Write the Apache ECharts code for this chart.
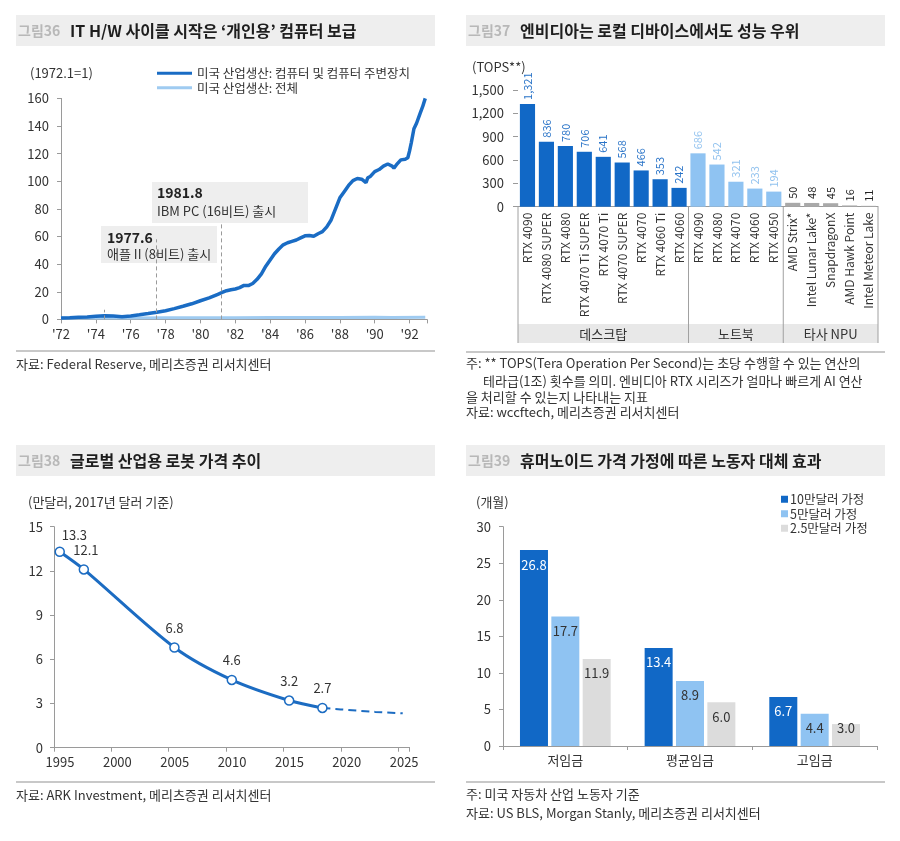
<!DOCTYPE html>
<html><head><meta charset="utf-8">
<script src="https://cdn.jsdelivr.net/npm/echarts@6/dist/echarts.min.js"></script>
<style>html,body{margin:0;padding:0;background:#fff}#c{width:900px;height:841px}</style>
</head><body><div id="c"></div>
<script>
// ---------- Panel 1 (그림36) ----------
const p1Years = [1972.0,1972.5,1973.0,1973.5,1974.0,1974.5,1975.0,1975.5,1976.0,1976.5,1977.0,1977.5,1978.0,1978.5,1979.0,1979.5,1980.0,1980.5,1981.0,1981.25,1981.5,1981.75,1982.0,1982.25,1982.5,1982.75,1983.0,1983.25,1983.5,1983.75,1984.0,1984.25,1984.5,1984.75,1985.0,1985.25,1985.5,1985.75,1986.0,1986.25,1986.5,1986.75,1987.0,1987.25,1987.5,1987.75,1988.0,1988.25,1988.5,1988.75,1989.0,1989.25,1989.5,1989.6,1989.75,1990.0,1990.25,1990.5,1990.75,1991.0,1991.1,1991.25,1991.5,1991.75,1991.9,1992.0,1992.1,1992.25,1992.4,1992.6,1992.75,1992.9];
const p1Computer = [1.0,1.2,1.5,1.8,2.2,2.6,2.4,2.0,2.5,3.3,4.2,5.2,6.3,7.8,9.5,11.3,13.5,15.6,18.2,19.5,20.8,21.5,22.0,23.0,24.6,24.5,26.0,29.0,33.0,38.5,43.0,47.5,51.0,54.0,55.5,56.5,57.5,59.0,60.5,60.8,60.2,62.0,63.5,67.0,72.0,80.0,88.0,92.5,97.0,100.5,102.0,101.5,99.0,102.5,103.5,107.0,108.5,111.0,112.5,111.0,109.5,112.0,115.5,116.0,117.0,122.0,128.0,138.0,142.0,149.0,154.0,160.0];
const p1TotalYears = [1972.0,1974.0,1975.0,1976.0,1978.0,1980.0,1982.0,1984.0,1986.0,1988.0,1990.0,1991.0,1992.9];
const p1Total = [1.0,1.1,1.0,1.1,1.2,1.25,1.15,1.3,1.35,1.45,1.5,1.45,1.55];
const p1Names = ['미국 산업생산: 컴퓨터 및 컴퓨터 주변장치','미국 산업생산: 전체'];

// ---------- Panel 2 (그림37) ----------
const p2Categories = ['RTX 4090','RTX 4080 SUPER','RTX 4080','RTX 4070 Ti SUPER','RTX 4070 Ti','RTX 4070 SUPER','RTX 4070','RTX 4060 Ti','RTX 4060','RTX 4090','RTX 4080','RTX 4070','RTX 4060','RTX 4050','AMD Strix*','Intel Lunar Lake*','SnapdragonX','AMD Hawk Point','Intel Meteor Lake'];
const p2Values = [1321,836,780,706,641,568,466,353,242,686,542,321,233,194,50,48,45,16,11];
const p2Groups = [0,0,0,0,0,0,0,0,0,1,1,1,1,1,2,2,2,2,2];
const p2GroupNames = ['데스크탑','노트북','타사 NPU'];

// ---------- Panel 3 (그림38) ----------
const p3Years = [1995.5,1997.6,2005.5,2010.5,2015.5,2018.4];
const p3Values = [13.3,12.1,6.8,4.6,3.2,2.7];
const p3ProjYears = [2018.4,2020,2023,2025.4];
const p3ProjValues = [2.7,2.6,2.43,2.33];

// ---------- Panel 4 (그림39) ----------
const p4Categories = ['저임금','평균임금','고임금'];
const p4SeriesNames = ['10만달러 가정','5만달러 가정','2.5만달러 가정'];
const p4Price100k = [26.8,13.4,6.7];
const p4Price50k = [17.7,8.9,4.4];
const p4Price25k = [11.9,6.0,3.0];

// ---------- styling ----------
const FONT = '"Noto Sans CJK KR", "Noto Sans", sans-serif';
const AX = '#9a9a9a';
const TXT = '#333';
const DARK = '#1168c6';
const LIGHT = '#8fc3f2';
const GRAY4 = '#dcdcdc';
const GROUP_COLORS = ['#1168c6', '#8fc3f2', '#a9a9a9'];
const GROUP_LABEL = ['#2a74c8', '#93c3ef', '#222'];

const G = [
  {left: 61, top: 98.4, width: 366, height: 221},
  {left: 518, top: 90, width: 360, height: 116.7},
  {left: 54, top: 526.7, width: 355.6, height: 221},
  {left: 503, top: 526.7, width: 374, height: 219.3}
];

const chart = echarts.init(document.getElementById('c'), null, {renderer: 'canvas'});

function txt(text, x, y, opt) {
  opt = opt || {};
  return {type: 'text', silent: true, z: 100, style: {
    text: text, x: x, y: y, fill: opt.fill || TXT,
    font: (opt.weight || 'normal') + ' ' + (opt.size || 13) + 'px ' + FONT,
    textAlign: opt.align || 'left', textVerticalAlign: 'middle'}};
}
function rect(x, y, w, h, fill, stroke) {
  return {type: 'rect', silent: true, z: 1, shape: {x: x, y: y, width: w, height: h},
    style: {fill: fill, stroke: stroke || null, lineWidth: stroke ? 1 : 0}};
}
function line(x1, y1, x2, y2, color, w) {
  return {type: 'line', silent: true, z: 5, shape: {x1: x1, y1: y1, x2: x2, y2: y2},
    style: {stroke: color, lineWidth: w || 1}};
}

const graphics = [];
// Title bands
[[16, 15, '그림36', 'IT H/W 사이클 시작은 ‘개인용’ 컴퓨터 보급'],
 [466, 15, '그림37', '엔비디아는 로컬 디바이스에서도 성능 우위'],
 [16, 445, '그림38', '글로벌 산업용 로봇 가격 추이'],
 [466, 445, '그림39', '휴머노이드 가격 가정에 따른 노동자 대체 효과']].forEach(t => {
  graphics.push(rect(t[0], t[1], 419, 31, '#eeeeee'));
  graphics.push(txt(t[2], t[0] + 2, t[1] + 16, {size: 14, weight: 'bold', fill: '#b8b8b8'}));
  graphics.push(txt(t[3], t[0] + 54, t[1] + 16, {size: 16, weight: 'bold', fill: '#1e1e1e'}));
});
// separators
graphics.push(line(16, 351, 435, 351, '#c8c8c8', 2));
graphics.push(line(466, 352, 885, 352, '#c8c8c8', 2));
graphics.push(line(16, 782, 435, 782, '#c8c8c8', 2));
graphics.push(line(466, 782, 885, 782, '#c8c8c8', 2));
// units
graphics.push(txt('(1972.1=1)', 30, 73));
graphics.push(txt('(TOPS**)', 472, 67));
graphics.push(txt('(만달러, 2017년 달러 기준)', 28, 502));
graphics.push(txt('(개월)', 476, 502));
// footnotes
graphics.push(txt('자료: Federal Reserve, 메리츠증권 리서치센터', 16, 364));
graphics.push(txt('주: ** TOPS(Tera Operation Per Second)는 초당 수행할 수 있는 연산의', 466, 363));
graphics.push(txt('테라급(1조) 횟수를 의미. 엔비디아 RTX 시리즈가 얼마나 빠르게 AI 연산', 483, 381));
graphics.push(txt('을 처리할 수 있는지 나타내는 지표', 466, 397));
graphics.push(txt('자료: wccftech, 메리츠증권 리서치센터', 466, 412));
graphics.push(txt('자료: ARK Investment, 메리츠증권 리서치센터', 16, 795));
graphics.push(txt('주: 미국 자동차 산업 노동자 기준', 466, 794));
graphics.push(txt('자료: US BLS, Morgan Stanly, 메리츠증권 리서치센터', 466, 813));
// panel 1 annotation boxes
graphics.push(rect(152, 182, 156, 41, '#eeeeee'));
graphics.push(txt('1981.8', 157, 193, {size: 14, weight: 'bold', fill: '#222'}));
graphics.push(txt('IBM PC (16비트) 출시', 157, 211, {size: 13}));
graphics.push(rect(101, 226, 116, 37, '#eeeeee'));
graphics.push(txt('1977.6', 107, 238, {size: 14, weight: 'bold', fill: '#222'}));
graphics.push(txt('애플 II (8비트) 출시', 107, 254, {size: 13}));
// panel 2 group band (derived from grid layout)
(function () {
  const g = G[1], n = p2Categories.length;
  const yTop = g.top + g.height, yBot = 343, bandTop = 324;
  graphics.push(rect(g.left, bandTop, g.width, yBot - bandTop, '#e8e8e8'));
  const bounds = [0];
  for (let i = 1; i < n; i++) if (p2Groups[i] !== p2Groups[i - 1]) bounds.push(i);
  bounds.push(n);
  bounds.forEach(k => {
    const x = g.left + g.width * k / n;
    graphics.push(line(x, yTop, x, yBot, '#a0a0a0', 1));
  });
  for (let j = 0; j < bounds.length - 1; j++) {
    const cx = g.left + g.width * (bounds[j] + bounds[j + 1]) / 2 / n;
    graphics.push(txt(p2GroupNames[j], cx, 334, {align: 'center'}));
  }
})();

const axisCommon = {
  axisLine: {show: true, lineStyle: {color: AX, width: 1}},
  axisTick: {show: true, length: 4, lineStyle: {color: AX}},
  splitLine: {show: false},
  axisLabel: {fontSize: 13, color: TXT, fontFamily: FONT, margin: 7}
};
function ax(extra) { return Object.assign({}, JSON.parse(JSON.stringify(axisCommon)), extra); }
function lab(margin, extra) { return Object.assign({fontSize: 13, color: TXT, fontFamily: FONT, margin: margin}, extra || {}); }

const p3Data = p3Years.map((y, i) => {
  const o = {value: [y, p3Values[i]]};
  if (i === 0) o.label = {align: 'left', offset: [2, 3]};
  if (i === 1) o.label = {offset: [2, 0]};
  return o;
});
const p4Small = p4Price25k.map((v, i) => {
  const o = {value: v};
  if (v < 4) o.label = {offset: [0, -11]};
  return o;
});

const option = {
  animation: false,
  backgroundColor: '#fff',
  textStyle: {fontFamily: FONT},
  grid: G.map(g => Object.assign({containLabel: false}, g)),
  legend: [
    {data: p1Names, left: 152, top: 62, orient: 'vertical', itemWidth: 35, itemHeight: 3, itemGap: 2,
     icon: 'rect', textStyle: {fontSize: 12.5, color: TXT, fontFamily: FONT}, selectedMode: false},
    {data: p4SeriesNames, left: 776, top: 488, orient: 'vertical', itemWidth: 7, itemHeight: 7, itemGap: 2,
     icon: 'rect', textStyle: {fontSize: 12.5, color: TXT, fontFamily: FONT, padding: [0, 0, 0, -3]}, selectedMode: false}
  ],
  xAxis: [
    ax({gridIndex: 0, type: 'value', min: 1972, max: 1993, interval: 2,
      axisLabel: lab(8, {formatter: v => (v % 2 === 0 && v < 1993) ? "'" + String(v).slice(2) : ''})}),
    ax({gridIndex: 1, type: 'category', data: p2Categories,
      axisTick: {show: false},
      axisLabel: lab(6, {interval: 0, rotate: 90, fontSize: 12})}),
    ax({gridIndex: 2, type: 'value', min: 1995, max: 2026, interval: 5,
      axisLabel: lab(8, {padding: [0, 0, 0, 12],
        formatter: v => (v % 5 === 0 && v <= 2025) ? String(v) : ''})}),
    ax({gridIndex: 3, type: 'category', data: p4Categories, axisLabel: lab(8)})
  ],
  yAxis: [
    ax({gridIndex: 0, type: 'value', min: 0, max: 160, interval: 20, axisLabel: lab(12)}),
    ax({gridIndex: 1, type: 'value', min: 0, max: 1500, interval: 300,
      axisLine: {show: false}, axisTick: {show: true, length: 5, lineStyle: {color: AX}},
      axisLabel: lab(14, {formatter: v => v.toLocaleString('en-US')})}),
    ax({gridIndex: 2, type: 'value', min: 0, max: 15, interval: 3, axisLabel: lab(11)}),
    ax({gridIndex: 3, type: 'value', min: 0, max: 30, interval: 5, axisLabel: lab(12)})
  ],
  series: [
    {name: p1Names[1], type: 'line', xAxisIndex: 0, yAxisIndex: 0, showSymbol: false, symbol: 'none',
     data: p1TotalYears.map((y, i) => [y, p1Total[i]]),
     lineStyle: {color: '#9fcbf1', width: 3}, itemStyle: {color: '#9fcbf1'}, z: 2},
    {name: p1Names[0], type: 'line', xAxisIndex: 0, yAxisIndex: 0, showSymbol: false, symbol: 'none',
     data: p1Years.map((y, i) => [y, p1Computer[i]]),
     lineStyle: {color: '#1a6cc4', width: 3.5}, itemStyle: {color: '#1a6cc4'}, z: 3,
     markLine: {silent: true, symbol: 'none', label: {show: false},
       lineStyle: {color: '#9a9a9a', type: [4, 3], width: 1},
       data: [
         [{coord: [1974.5, 0]}, {coord: [1974.5, 7]}],
         [{coord: [1977.45, 0]}, {coord: [1977.45, 58]}],
         [{coord: [1981.2, 0]}, {coord: [1981.2, 70]}]
       ]}},
    {name: 'TOPS', type: 'bar', xAxisIndex: 1, yAxisIndex: 1, barCategoryGap: '20%',
     data: p2Values.map((v, i) => ({value: v,
       itemStyle: {color: GROUP_COLORS[p2Groups[i]]},
       label: {color: GROUP_LABEL[p2Groups[i]]}})),
     label: {show: true, position: 'top', rotate: 90, align: 'left', verticalAlign: 'middle',
       distance: 4, fontSize: 11, fontFamily: FONT,
       formatter: p => p.value.toLocaleString('en-US')}},
    {name: 'robot', type: 'line', xAxisIndex: 2, yAxisIndex: 2, smooth: 0.3,
     data: p3Data,
     symbol: 'circle', symbolSize: 9,
     lineStyle: {color: '#1c6cc2', width: 3},
     itemStyle: {color: '#fff', borderColor: '#1c6cc2', borderWidth: 1.5},
     label: {show: true, position: 'top', distance: 8, fontSize: 13, color: TXT, fontFamily: FONT,
       formatter: p => p.value[1].toFixed(1)}, z: 4},
    {name: 'robotProj', type: 'line', xAxisIndex: 2, yAxisIndex: 2, smooth: 0.3, showSymbol: false, symbol: 'none',
     data: p3ProjYears.map((y, i) => [y, p3ProjValues[i]]),
     lineStyle: {color: '#1c6cc2', width: 2, type: [8, 5]}, z: 3},
    {name: p4SeriesNames[0], type: 'bar', xAxisIndex: 3, yAxisIndex: 3, data: p4Price100k,
     barWidth: 28, barGap: '12%', itemStyle: {color: DARK},
     label: {show: true, position: 'insideTop', distance: 8, color: '#fff', fontSize: 13, fontFamily: FONT,
       formatter: p => p.value.toFixed(1)}},
    {name: p4SeriesNames[1], type: 'bar', xAxisIndex: 3, yAxisIndex: 3, data: p4Price50k,
     barWidth: 28, barGap: '12%', itemStyle: {color: LIGHT},
     label: {show: true, position: 'insideTop', distance: 8, color: TXT, fontSize: 13, fontFamily: FONT,
       formatter: p => p.value.toFixed(1)}},
    {name: p4SeriesNames[2], type: 'bar', xAxisIndex: 3, yAxisIndex: 3, data: p4Small,
     barWidth: 28, barGap: '12%', itemStyle: {color: GRAY4},
     label: {show: true, position: 'insideTop', distance: 8, color: TXT, fontSize: 13, fontFamily: FONT,
       formatter: p => p.value.toFixed(1)}}
  ],
  graphic: {elements: graphics}
};
chart.setOption(option);
</script></body></html>
